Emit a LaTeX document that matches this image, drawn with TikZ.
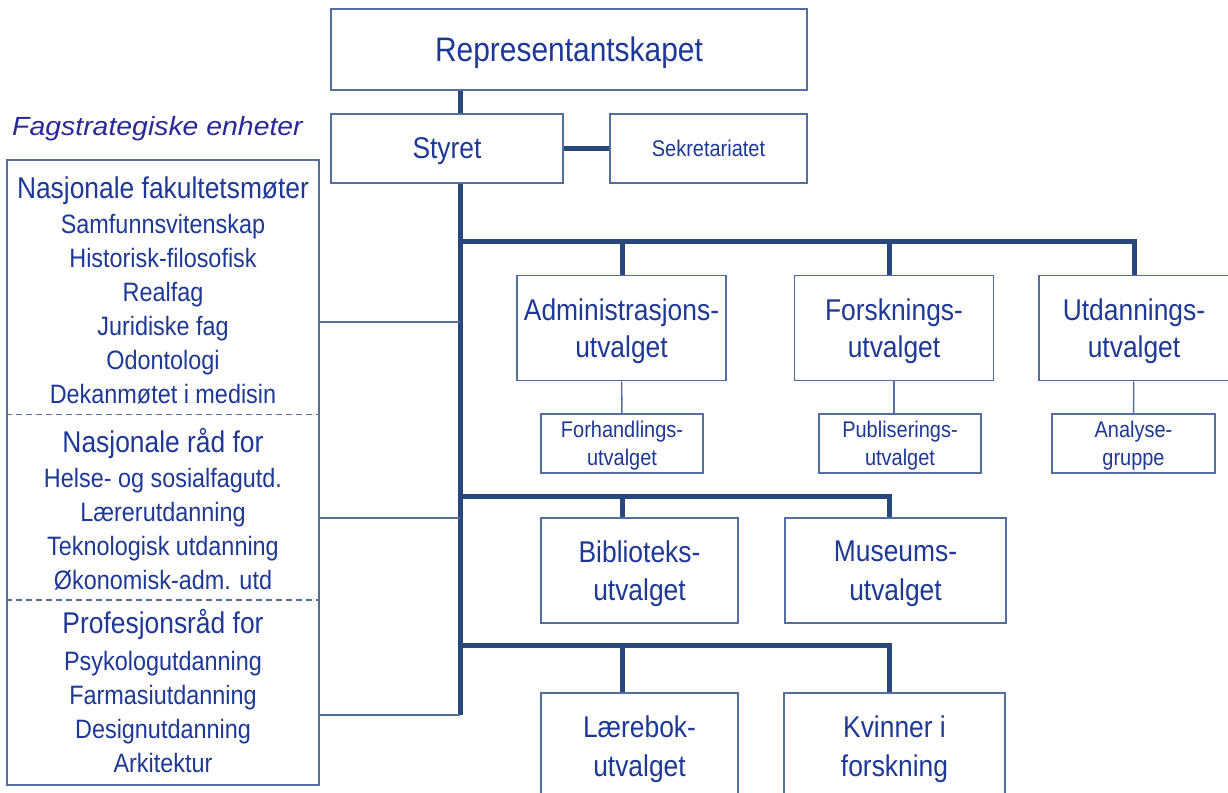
\documentclass[tikz,border=0pt]{standalone}
\usepackage{fontspec}
\setmainfont{Liberation Sans}[FakeStretch=0.88]
\newfontfamily\titlefont{Liberation Sans}[FakeStretch=1.08]
\usepackage{tikz}
\usetikzlibrary{positioning}
\definecolor{inkblue}{RGB}{30,56,150}
\definecolor{titleblue}{RGB}{40,40,150}
\definecolor{busblue}{RGB}{40,72,125}
\definecolor{boxblue}{RGB}{85,110,160}
\tikzset{
	unit/.style={draw=boxblue, line width=1.6pt, fill=white, text=inkblue, align=center,
		inner sep=2pt, font=\fontsize{30}{37.5}\selectfont, text depth=-1.7pt},
	lowunit/.style={unit, font=\fontsize{30}{38.4}\selectfont, text depth=-3.7pt},
	subunit/.style={unit, font=\fontsize{22.7}{28.4}\selectfont, minimum height=59pt, text depth=-3.2pt},
	section/.style={text=inkblue, align=center, inner sep=0pt, anchor=north,
		font=\fontsize{26.6}{34}\selectfont},
	bus/.style={draw=busblue, line width=5pt},
	link/.style={draw=boxblue, line width=1.4pt},
	split/.style={draw=boxblue, line width=1.2pt, dash pattern=on 6pt off 4pt},
}
\newcommand{\headline}[1]{{\fontsize{30}{34}\selectfont #1}}

\begin{document}
\begin{tikzpicture}[x=1pt, y=-1pt]
	\useasboundingbox (0,0) rectangle (1228,792);
	% spine and branch points
	\coordinate (b1) at (460,241);
	\coordinate (b2) at (460,496);
	\coordinate (b3) at (460,645.5);
	\coordinate (foot) at (460,715);
	\coordinate (dA) at (622,0);
	\coordinate (dF) at (889,0);
	\coordinate (c1) at (460,322);
	\coordinate (c2) at (460,518);
	\coordinate (c3) at (460,715);
	\coordinate (s1) at (163,414.5);
	\coordinate (s2) at (163,600);

	\node[unit, minimum width=476pt, minimum height=81pt, font=\fontsize{34}{40}\selectfont, text depth=-4.9pt] (repr) at (569,49.5) {Representantskapet};
	\node[unit, minimum width=232pt, minimum height=69pt, text depth=-5.7pt] (styret) at (447,148.5) {Styret};
	\node[unit, minimum width=197pt, minimum height=69pt, font=\fontsize{22.7}{28}\selectfont, text depth=-3pt] (sekr) at (708.5,148.5) {Sekretariatet};

	\node[text=titleblue, font=\titlefont\itshape\fontsize{26.3}{30}\selectfont, inner sep=0pt] (title) at (157.5,129) {Fagstrategiske enheter};

	% left column
	\node[draw=boxblue, line width=1.6pt, minimum width=312pt, minimum height=625pt] (frame) at (163,472.5) {};
	\node[section] (fak) at (163,176.5) {\headline{Nasjonale fakultetsmøter}\\[1pt]
		Samfunnsvitenskap\\ Historisk-filosofisk\\ Realfag\\ Juridiske fag\\ Odontologi\\ Dekanmøtet i medisin};
	\node[section] (rad) at (163,428.5) {\headline{Nasjonale råd for}\\[1pt]
		Helse- og sosialfagutd.\\ Lærerutdanning\\ Teknologisk utdanning\\ Økonomisk-adm. utd};
	\node[section] (prof) at (163,609) {\headline{Profesjonsråd for}\\[3pt]
		Psykologutdanning\\ Farmasiutdanning\\ Designutdanning\\ Arkitektur};
	\draw[split] (s1 -| frame.west) -- (s1 -| frame.east);
	\draw[split] (s2 -| frame.west) -- (s2 -| frame.east);

	\draw[bus] (repr.south -| foot) -- (styret.north -| foot);
	\draw[bus] (styret) -- (sekr);
	\draw[bus] (styret.south -| foot) -- (foot);

	\node[unit, minimum width=209pt, minimum height=105pt] (admin) at (621.5,328) {Administrasjons-\\utvalget};
	\node[unit, minimum width=199pt, minimum height=105pt] (forsk) at (894,328) {Forsknings-\\utvalget};
	\node[unit, minimum width=190pt, minimum height=105pt] (utd) at (1134,328) {Utdannings-\\utvalget};
	\node[subunit, minimum width=162pt] (forh) at (622,443.5) {Forhandlings-\\utvalget};
	\node[subunit, minimum width=162pt] (publ) at (900,443.5) {Publiserings-\\utvalget};
	\node[subunit, minimum width=163pt] (anal) at (1133.5,443.5) {Analyse-\\gruppe};
	\node[lowunit, minimum width=197pt, minimum height=105pt] (bibl) at (639.5,570.5) {Biblioteks-\\utvalget};
	\node[lowunit, minimum width=221pt, minimum height=105pt] (muse) at (895.5,570.5) {Museums-\\utvalget};
	\node[lowunit, minimum width=197pt, minimum height=106pt] (laer) at (639.5,746) {Lærebok-\\utvalget};
	\node[lowunit, minimum width=221pt, minimum height=106pt] (kvin) at (894.5,746) {Kvinner i\\forskning};

	\draw[bus] (b1) -| (utd.north);
	\draw[bus] (b1 -| dA) -- (admin.north -| dA);
	\draw[bus] (b1 -| dF) -- (forsk.north -| dF);
	\draw[bus] (b2) -| (muse.north -| dF);
	\draw[bus] (b2 -| dA) -- (bibl.north -| dA);
	\draw[bus] (b3) -| (kvin.north -| dF);
	\draw[bus] (b3 -| dA) -- (laer.north -| dA);

	\draw[link] (admin) -- (forh);
	\draw[link] (forsk.south) -- (forsk.south |- publ.north);
	\draw[link] (utd) -- (anal);
	\draw[link] (c1 -| frame.east) -- (c1);
	\draw[link] (c2 -| frame.east) -- (c2);
	\draw[link] (c3 -| frame.east) -- (c3);
\end{tikzpicture}
\end{document}
